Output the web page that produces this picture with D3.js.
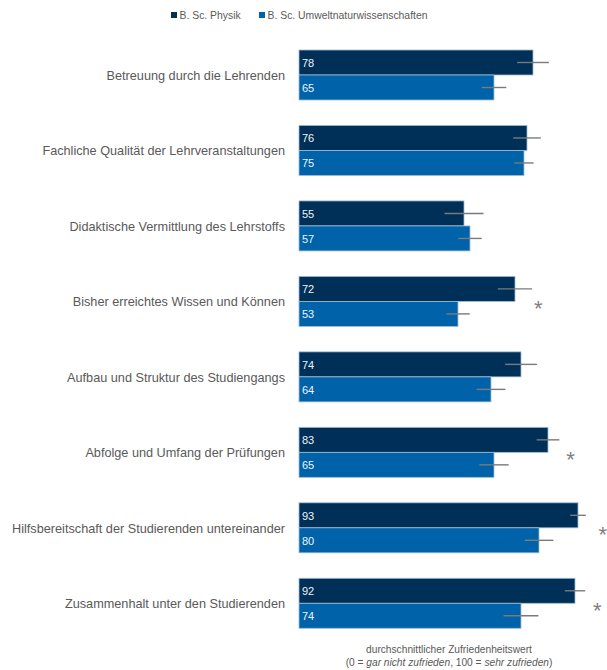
<!DOCTYPE html>
<html>
<head>
<meta charset="utf-8">
<script src="https://cdn.jsdelivr.net/npm/d3@7"></script>
<style>
  html, body { margin: 0; padding: 0; background: #fff; }
  svg { display: block; font-family: "Liberation Sans", Arial, sans-serif; }
</style>
</head>
<body>
<svg id="chart" width="607" height="670"></svg>
<script>
// Satisfaction items (rows, top to bottom)
const categories = [
  "Betreuung durch die Lehrenden",
  "Fachliche Qualität der Lehrveranstaltungen",
  "Didaktische Vermittlung des Lehrstoffs",
  "Bisher erreichtes Wissen und Können",
  "Aufbau und Struktur des Studiengangs",
  "Abfolge und Umfang der Prüfungen",
  "Hilfsbereitschaft der Studierenden untereinander",
  "Zusammenhalt unter den Studierenden"
];

// Study programmes
const seriesNames = ["B. Sc. Physik", "B. Sc. Umweltnaturwissenschaften"];

// Mean satisfaction scores (0–100)
const physikValues = [78, 76, 55, 72, 74, 83, 93, 92];
const umweltValues = [65, 75, 57, 53, 64, 65, 80, 74];

// Half-widths of the error intervals, in score units
const physikErrors = [5.3, 4.6, 6.5, 5.7, 5.3, 3.8, 2.6, 3.4];
const umweltErrors = [4.1, 3.2, 3.9, 3.9, 4.8, 4.9, 4.8, 5.8];

// Significant differences (asterisk), with the score position of the mark
const significant = [false, false, false, true, false, true, true, true];
const asteriskAt  = [null, null, null, 79.8, null, 90.5, 101.3, 99.4];

const colors = ["#003057", "#0063a9"];

const svg = d3.select("#chart");

const x = d3.scaleLinear().domain([0, 100]).range([299, 599]);

const y = d3.scaleBand()
  .domain(categories)
  .range([37.26, 641.02])
  .paddingInner(0.3375)
  .paddingOuter(0.16875);

const ySub = d3.scaleBand()
  .domain(seriesNames)
  .range([0, y.bandwidth()]);

const rows = categories.map((c, i) => ({
  category: c,
  items: [
    { series: seriesNames[0], value: physikValues[i], err: physikErrors[i], color: colors[0] },
    { series: seriesNames[1], value: umweltValues[i], err: umweltErrors[i], color: colors[1] }
  ],
  sig: significant[i],
  starAt: asteriskAt[i]
}));

// Legend
const legend = svg.append("g").attr("class", "legend");
const legendX = [171, 259];
seriesNames.forEach((name, i) => {
  legend.append("rect")
    .attr("x", legendX[i]).attr("y", 12)
    .attr("width", 6).attr("height", 6)
    .attr("fill", colors[i]);
  legend.append("text")
    .attr("x", legendX[i] + 8.5).attr("y", 15)
    .attr("dominant-baseline", "central")
    .attr("font-size", 10.4)
    .attr("fill", "#595959")
    .text(name);
});

// Category labels
svg.append("g").selectAll("text")
  .data(categories)
  .join("text")
  .attr("x", 285)
  .attr("y", d => y(d) + y.bandwidth() / 2 + 1)
  .attr("text-anchor", "end")
  .attr("dominant-baseline", "central")
  .attr("font-size", 12.7)
  .attr("fill", "#595959")
  .text(d => d);

const groups = svg.append("g").selectAll("g")
  .data(rows)
  .join("g")
  .attr("transform", d => `translate(0,${y(d.category)})`);

// Bars
groups.selectAll("rect")
  .data(d => d.items)
  .join("rect")
  .attr("x", x(0))
  .attr("y", d => ySub(d.series))
  .attr("width", d => x(d.value) - x(0))
  .attr("height", ySub.bandwidth())
  .attr("fill", d => d.color)
  .attr("stroke", "#9fbbd4")
  .attr("stroke-width", 0.8);

// Value labels inside bars
groups.selectAll("text.val")
  .data(d => d.items)
  .join("text")
  .attr("class", "val")
  .attr("x", x(0) + 3)
  .attr("y", d => ySub(d.series) + ySub.bandwidth() / 2 + 0.5)
  .attr("dominant-baseline", "central")
  .attr("font-size", 11)
  .attr("fill", "#eef3f8")
  .text(d => d.value);

// Error intervals
groups.selectAll("line.err")
  .data(d => d.items)
  .join("line")
  .attr("class", "err")
  .attr("x1", d => x(d.value - d.err))
  .attr("x2", d => x(d.value + d.err))
  .attr("y1", d => ySub(d.series) + ySub.bandwidth() / 2)
  .attr("y2", d => ySub(d.series) + ySub.bandwidth() / 2)
  .attr("stroke", "#7a7a7a")
  .attr("stroke-width", 1.4);

// Significance asterisks
groups.filter(d => d.sig)
  .append("text")
  .attr("x", d => x(d.starAt))
  .attr("y", y.bandwidth() / 2 + 7)
  .attr("text-anchor", "middle")
  .attr("dominant-baseline", "central")
  .attr("font-size", 22)
  .attr("fill", "#7f7f7f")
  .text("*");

// Axis caption
const cx = (x(0) + x(100)) / 2;
svg.append("text")
  .attr("x", cx).attr("y", 653)
  .attr("text-anchor", "middle")
  .attr("font-size", 10.2)
  .attr("fill", "#595959")
  .text("durchschnittlicher Zufriedenheitswert");

const cap2 = svg.append("text")
  .attr("x", cx).attr("y", 666)
  .attr("text-anchor", "middle")
  .attr("font-size", 10.2)
  .attr("fill", "#595959");
cap2.append("tspan").text("(0 = ");
cap2.append("tspan").attr("font-style", "italic").text("gar nicht zufrieden");
cap2.append("tspan").text(", 100 = ");
cap2.append("tspan").attr("font-style", "italic").text("sehr zufrieden");
cap2.append("tspan").text(")");
</script>
</body>
</html>
